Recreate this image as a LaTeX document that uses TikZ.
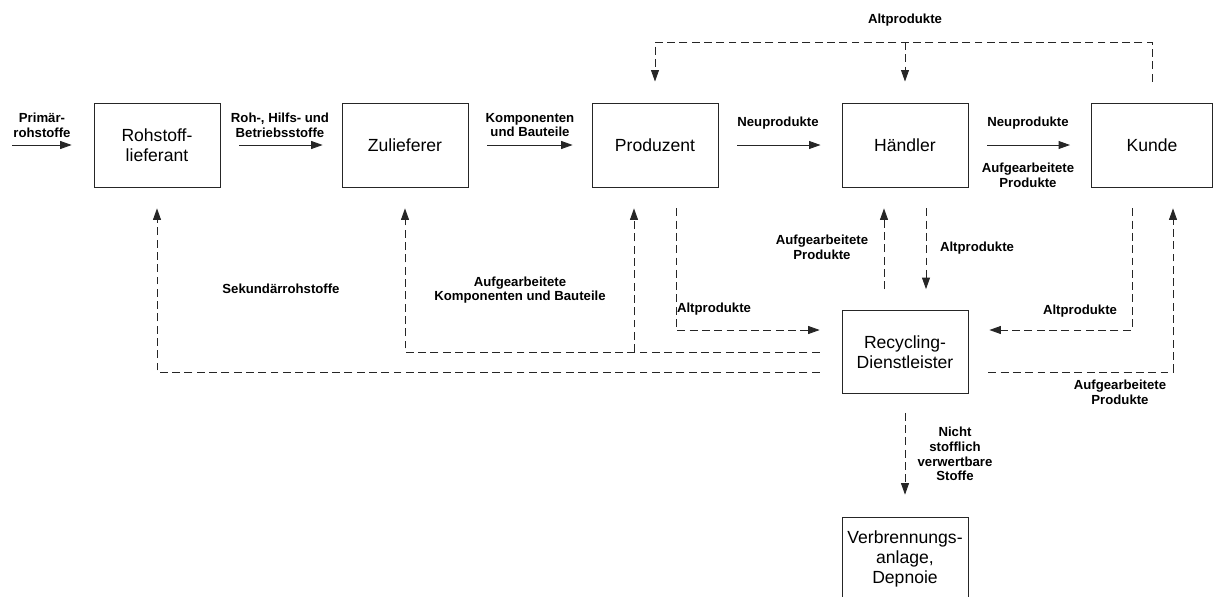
\documentclass[tikz,border=0pt]{standalone}
\usepackage{fontspec}
\setmainfont{Liberation Sans}
\usetikzlibrary{calc,arrows.meta}
\definecolor{linegray}{HTML}{262626}

\begin{document}
\begin{tikzpicture}[x=0.02cm, y=-0.02cm,
  block/.style={draw=linegray, line width=0.45pt, minimum width=2.52cm, minimum height=1.68cm,
    align=center, inner sep=1pt, font=\fontsize{10}{11.5}\selectfont},
  flow/.style={draw=linegray, line width=0.5pt, -{Triangle[length=6.5pt,width=4.5pt]}},
  back/.style={flow, dash pattern=on 4.5pt off 2.5pt},
  lbl/.style={align=center, inner sep=0pt, font=\bfseries\fontsize{7.5}{8.4}\selectfont}]
  \useasboundingbox (0,0) rectangle (1214,596);

  % Akteure der Kette
  \node[block] (roh) at (157,145) {Rohstoff-\\lieferant};
  \node[block] (zul) at (405,145) {Zulieferer};
  \node[block] (prod) at (655,145) {Produzent};
  \node[block] (haend) at (905,145) {Händler};
  \node[block, minimum width=2.42cm] (kunde) at (1152,145) {Kunde};
  \node[block, minimum height=1.66cm] (recyc) at (905,352) {Recycling-\\Dienstleister};
  \node[block] (verbr) at (905,559) {Verbrennungs-\\anlage,\\Depnoie};

  % Vorwaertsfluss
  \coordinate (src) at (12,145);
  \draw[flow, shorten >=12.5pt] (src) -- (roh.west);
  \draw[flow, shorten <=10.8pt, shorten >=10.8pt] (roh) -- (zul);
  \draw[flow, shorten <=10.8pt, shorten >=10.8pt] (zul) -- (prod);
  \draw[flow, shorten <=10.8pt, shorten >=12pt] (prod) -- (haend);
  \draw[flow, shorten <=10.8pt, shorten >=12pt] (haend) -- (kunde);

  \node[lbl] (lPrim) at (42,125) {Primär-\\rohstoffe};
  \node[lbl] (lRoh) at (280,125) {Roh-, Hilfs- und\\Betriebsstoffe};
  \node[lbl] (lKomp) at (530,125) {Komponenten\\und Bauteile};
  \node[lbl] (lNeu1) at (778,123) {Neuprodukte};
  \node[lbl] (lNeu2) at (1028,123) {Neuprodukte};
  \node[lbl] (lAufH) at (1028,175) {Aufgearbeitete\\Produkte};

  % Altprodukte oben (Kunde -> Produzent, Haendler)
  \coordinate (top) at (905,42);
  \draw[back, shorten <=12pt, shorten >=12pt] (kunde.north) -- (kunde.north |- top) -| (prod.north);
  \draw[back, shorten >=12pt] (top) -- (haend.north);
  \node[lbl] (lAltTop) at (905,20) {Altprodukte};

  % Produzent -> Recycling
  \draw[back, shorten >=12.5pt] ($(prod.south)+(21,21)$) |- ($(recyc.west)+(0,-22)$);
  \node[lbl] (lAltP) at (714,309) {Altprodukte};

  % Recycling -> Produzent, Zulieferer
  \coordinate (kompL) at ($(recyc.west)+(-22,0)$);
  \coordinate (prodL) at ($(prod.south)+(-21,21)$);
  \draw[back] (kompL) -| ($(zul.south)+(0,21)$);
  \draw[back] (prodL |- kompL) -- (prodL);
  \node[lbl] (lKompR) at (520,290) {Aufgearbeitete\\Komponenten und Bauteile};

  % Recycling -> Rohstofflieferant
  \draw[back] ($(recyc.west)+(-22,20)$) -| ($(roh.south)+(0,21)$);
  \node[lbl] (lSek) at (281,289) {Sekundärrohstoffe};

  % Haendler <-> Recycling
  \draw[back] ($(recyc.north)+(-21,-21)$) -- ($(haend.south)+(-21,21)$);
  \draw[back] ($(haend.south)+(21,21)$) -- ($(recyc.north)+(21,-21)$);
  \node[lbl] (lAufHR) at (822,247) {Aufgearbeitete\\Produkte};
  \node[lbl] (lAltH) at (977,248) {Altprodukte};

  % Kunde <-> Recycling
  \draw[back] ($(kunde.south)+(-20,21)$) |- ($(recyc.east)+(21,-22)$);
  \draw[back] ($(recyc.east)+(20,20)$) -| ($(kunde.south)+(21,21)$);
  \node[lbl] (lAltK) at (1080,311) {Altprodukte};
  \node[lbl] (lAufK) at (1120,392) {Aufgearbeitete\\Produkte};

  % Entsorgung
  \draw[back, shorten <=10.8pt, shorten >=12.5pt] (recyc) -- (verbr);
  \node[lbl] (lNicht) at (955,454) {Nicht\\stofflich\\verwertbare\\Stoffe};
\end{tikzpicture}
\end{document}
